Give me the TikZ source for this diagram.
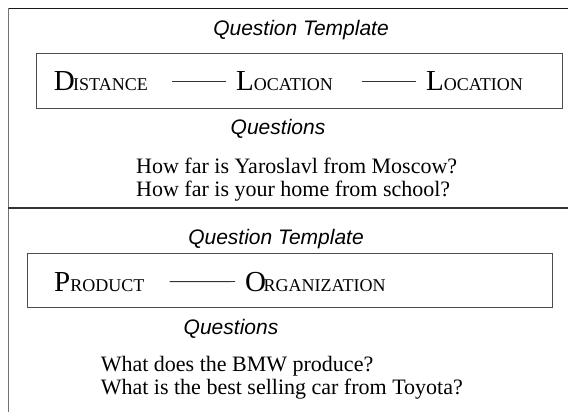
\documentclass[tikz,border=0pt]{standalone}
\usepackage{fontspec}
\setmainfont{Liberation Serif}
\setsansfont{Liberation Sans}
\newcommand{\smcap}[3][0pt]{{\fontsize{29}{29}\selectfont #2}\kern#1{\fontsize{18}{18}\selectfont #3}}
\begin{document}
\begin{tikzpicture}[x=1pt,y=-1pt,
  title/.style={font=\sffamily\itshape\fontsize{21}{21}\selectfont, inner sep=0pt, anchor=base},
  ent/.style={inner sep=0pt, anchor=base west},
  qline/.style={font=\fontsize{22}{22}\selectfont, inner sep=0pt, anchor=base west},
  tbox/.style={draw=black!70, line width=0.9pt},
  link/.style={draw=black!80, line width=0.9pt},
  topline/.style={draw=black!90, line width=1.1pt},
  leftline/.style={draw=black!55, line width=1.6pt},
  divline/.style={draw=black!80, line width=1.8pt}]
\useasboundingbox (0,0) rectangle (568,412);
% frame
\draw[topline] (7.5,8.3) -- (568,8.3);
\draw[leftline] (8.3,8.3) -- (8.3,412);
\draw[divline] (8.3,207.7) -- (568,207.7);
% ---- top half
\node[title] (qt1) at (301,36) {Question Template};
\draw[tbox] (36,53.3) rectangle (562,108.3);
\node[ent] (dist) at (53.6,90.5) {\smcap[-1.5pt]{D}{ISTANCE}};
\node[ent] (loc1) at (236,90.5) {\smcap{L}{OCATION}};
\node[ent] (loc2) at (426,90.5) {\smcap{L}{OCATION}};
\draw[link, shorten <=23.6pt, shorten >=10pt] (dist.east) -- (loc1.west);
\draw[link, shorten <=29pt, shorten >=10pt] (loc1.east) -- (loc2.west);
\node[title] (qs1) at (278,134) {Questions};
\node[qline] (q1a) at (136,173.3) {How far is Yaroslavl from Moscow?};
\node[qline] (q1b) at (136,196) {How far is your home from school?};
% ---- bottom half
\node[title] (qt2) at (276,244.3) {Question Template};
\draw[tbox] (27.3,253.3) rectangle (552,307);
\node[ent] (prod) at (54,291) {\smcap{P}{RODUCT}};
\node[ent] (org) at (245,291) {\smcap[-2.5pt]{O}{RGANIZATION}};
\draw[link, shorten <=25pt, shorten >=10pt] (prod.east) -- (org.west);
\node[title] (qs2) at (231,334.3) {Questions};
\node[qline] (q2a) at (100.6,371) {What does the BMW produce?};
\node[qline] (q2b) at (100.6,394.3) {What is the best selling car from Toyota?};
\end{tikzpicture}
\end{document}
